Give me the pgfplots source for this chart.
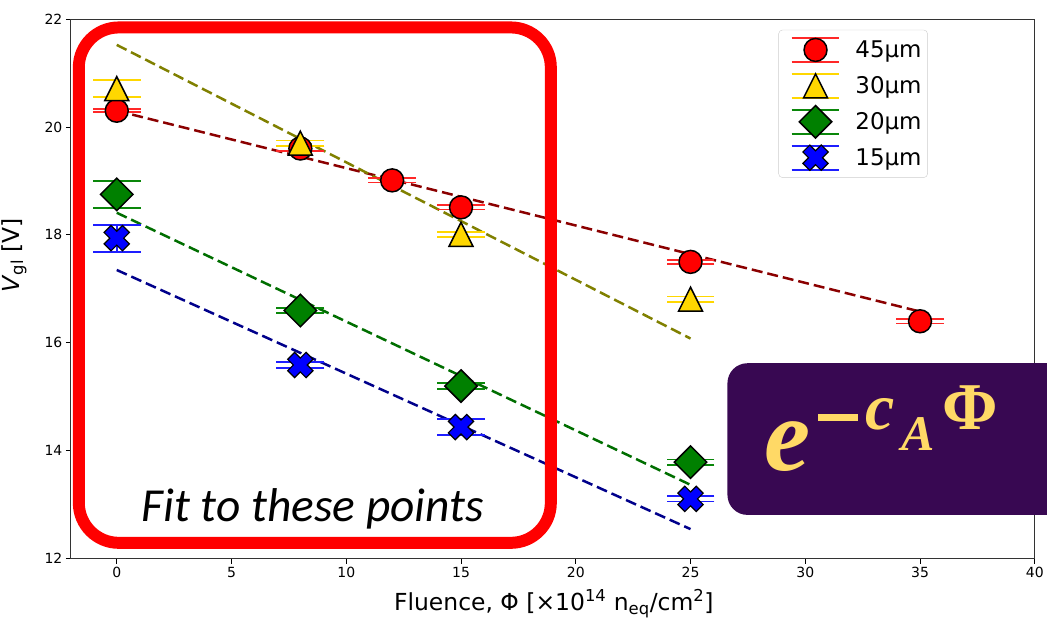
\documentclass[border=0pt]{standalone}
\usepackage{pgfplots}
\pgfplotsset{compat=1.18}
\usepackage{pgfplotstable}
\usepackage[no-math]{fontspec}
\setmainfont{DejaVu Sans}
\newfontfamily\carl{Carlito}
\newfontfamily\lser{Liberation Serif}

\definecolor{purp}{RGB}{56,8,82}
\definecolor{formcol}{RGB}{255,217,102}
\definecolor{errred}{RGB}{255,40,40}
\definecolor{errgold}{RGB}{255,215,0}
\definecolor{errgreen}{RGB}{10,135,10}
\definecolor{errblue}{RGB}{30,30,255}
\definecolor{fitred}{RGB}{139,0,0}
\definecolor{fitolive}{RGB}{128,128,0}
\definecolor{fitgreen}{RGB}{0,110,0}
\definecolor{fitblue}{RGB}{0,0,139}
\definecolor{mgold}{RGB}{255,215,0}
\definecolor{mgreen}{RGB}{0,128,0}

\pgfdeclareplotmark{mtri}{%
  \pgfpathmoveto{\pgfqpoint{0pt}{\pgfplotmarksize}}%
  \pgfpathlineto{\pgfqpoint{-\pgfplotmarksize}{-\pgfplotmarksize}}%
  \pgfpathlineto{\pgfqpoint{\pgfplotmarksize}{-\pgfplotmarksize}}%
  \pgfpathclose\pgfusepathqfillstroke}
\pgfdeclareplotmark{fatx}{%
  \pgftransformrotate{45}%
  \pgfpathmoveto{\pgfqpoint{0.38\pgfplotmarksize}{\pgfplotmarksize}}%
  \pgfpathlineto{\pgfqpoint{0.38\pgfplotmarksize}{0.38\pgfplotmarksize}}%
  \pgfpathlineto{\pgfqpoint{\pgfplotmarksize}{0.38\pgfplotmarksize}}%
  \pgfpathlineto{\pgfqpoint{\pgfplotmarksize}{-0.38\pgfplotmarksize}}%
  \pgfpathlineto{\pgfqpoint{0.38\pgfplotmarksize}{-0.38\pgfplotmarksize}}%
  \pgfpathlineto{\pgfqpoint{0.38\pgfplotmarksize}{-\pgfplotmarksize}}%
  \pgfpathlineto{\pgfqpoint{-0.38\pgfplotmarksize}{-\pgfplotmarksize}}%
  \pgfpathlineto{\pgfqpoint{-0.38\pgfplotmarksize}{-0.38\pgfplotmarksize}}%
  \pgfpathlineto{\pgfqpoint{-\pgfplotmarksize}{-0.38\pgfplotmarksize}}%
  \pgfpathlineto{\pgfqpoint{-\pgfplotmarksize}{0.38\pgfplotmarksize}}%
  \pgfpathlineto{\pgfqpoint{-0.38\pgfplotmarksize}{0.38\pgfplotmarksize}}%
  \pgfpathlineto{\pgfqpoint{-0.38\pgfplotmarksize}{\pgfplotmarksize}}%
  \pgfpathclose\pgfusepathqfillstroke}

\pgfplotstableread{
x y e
0 20.30 0.03
8 19.60 0.04
12 19.01 0.04
15 18.51 0.04
25 17.50 0.04
35 16.40 0.04
}\dA
\pgfplotstableread{
x y e
0 20.71 0.16
8 19.70 0.05
15 18.01 0.05
25 16.81 0.05
}\dB
\pgfplotstableread{
x y e
0 18.75 0.25
8 16.60 0.05
15 15.20 0.05
25 13.79 0.05
}\dC
\pgfplotstableread{
x y e
0 17.94 0.25
8 15.59 0.05
15 14.44 0.15
25 13.11 0.05
}\dD

% error bar (vertical line + two caps) for one series
\newcommand\errs[2]{%
  \addplot[draw=none, mark=none, forget plot,
    error bars/.cd, y dir=both, y explicit, error mark=none,
    error bar style={draw=#2, line width=1.8pt}]
    table[x=x, y=y, y error=e]{#1};
  \addplot[only marks, mark=-, mark size=24pt, forget plot,
    mark options={draw=#2, line width=1.8pt}]
    table[x=x, y expr=\thisrow{y}+\thisrow{e}]{#1};
  \addplot[only marks, mark=-, mark size=24pt, forget plot,
    mark options={draw=#2, line width=1.8pt}]
    table[x=x, y expr=\thisrow{y}-\thisrow{e}]{#1};
}
\newcommand\legimg[1]{%
  \draw[draw=#1, line width=1.8pt] (0pt,-12pt) -- (48pt,-12pt);
  \draw[draw=#1, line width=1.8pt] (0pt,12pt) -- (48pt,12pt);
  \draw plot coordinates {(24pt,0pt)};
  \path[draw=none,fill=none] (-9pt,-18pt) rectangle (62pt,18pt);}

\begin{document}
\begin{tikzpicture}
\begin{axis}[
  at={(0pt,0pt)}, anchor=south west,
  width=966pt, height=541pt, scale only axis,
  xmin=-2, xmax=40, ymin=12, ymax=22,
  xtick={0,5,...,40}, ytick={12,14,...,22},
  tick align=outside, tick pos=left, major tick length=5pt,
  tick style={black, line width=0.8pt},
  axis line style={black!80, line width=0.8pt},
  /pgf/number format/assume math mode=true,
  ticklabel style={font=\fontsize{14}{14}\selectfont},
  xlabel={Fluence, Φ [×10\textsuperscript{14} n\textsubscript{eq}/cm\textsuperscript{2}]},
  ylabel={\textit{V}\textsubscript{gl} [V]},
  label style={font=\fontsize{23.5}{23.5}\selectfont},
  xlabel style={at={(rel axis cs:0.501,0)}, anchor=base, yshift=-52pt, inner sep=0pt},
  ylabel style={at={(rel axis cs:-0.059,0.562)}, anchor=center, inner sep=0pt},
  legend style={at={(rel axis cs:0.889,0.980)}, anchor=north east,
    draw=black!20, rounded corners=4pt, fill=white,
    font=\fontsize{23}{23}\selectfont, row sep=0pt,
    inner xsep=4pt, inner ysep=2pt},
  legend cell align=left,
]
% fit lines
\addplot[fitred, line width=2.5pt, dash pattern=on 11pt off 5pt, forget plot] coordinates {(0,20.30) (35,16.58)};
\addplot[fitolive, line width=2.5pt, dash pattern=on 11pt off 5pt, forget plot] coordinates {(0,21.52) (25,16.08)};
\addplot[fitgreen, line width=2.5pt, dash pattern=on 11pt off 5pt, forget plot] coordinates {(0,18.41) (25,13.37)};
\addplot[fitblue, line width=2.5pt, dash pattern=on 11pt off 5pt, forget plot] coordinates {(0,17.35) (25,12.55)};

% error bars
\errs{\dA}{errred}
\errs{\dB}{errgold}
\errs{\dC}{errgreen}
\errs{\dD}{errblue}

% data points
\addplot[only marks, mark=*, mark size=11.5pt, mark options={fill=red, draw=black, line width=1.5pt},
  legend image code/.code={\legimg{errred}}]
  table[x=x, y=y]{\dA};
\addlegendentry{45µm}
\addplot[only marks, mark=mtri, mark size=12pt, mark options={fill=mgold, draw=black, line width=1.5pt},
  legend image code/.code={\legimg{errgold}}]
  table[x=x, y=y]{\dB};
\addlegendentry{30µm}
\addplot[only marks, mark=square*, mark size=11.5pt, mark options={rotate=45, fill=mgreen, draw=black, line width=1.5pt},
  legend image code/.code={\legimg{errgreen}}]
  table[x=x, y=y]{\dC};
\addlegendentry{20µm}
\addplot[only marks, mark=fatx, mark size=13pt, mark options={fill=blue, draw=black, line width=1.2pt},
  legend image code/.code={\legimg{errblue}}]
  table[x=x, y=y]{\dD};
\addlegendentry{15µm}
\end{axis}
% annotations
\draw[red, line width=12pt, rounded corners=40pt] (8pt,16pt) rectangle (481pt,532.5pt);
\node[anchor=base, inner sep=0pt] at (242.5pt,37pt) {\carl\itshape\fontsize{47.5}{47.5}\selectfont Fit to these points};
\fill[purp, rounded corners=20pt, overlay] (658pt,44pt) rectangle (1020pt,196pt);
\node[anchor=base west, inner sep=0pt, text=formcol] at (695pt,88pt) {\lser\bfseries\itshape\fontsize{104}{104}\selectfont e};
\fill[formcol] (749pt,138.5pt) rectangle (789pt,145.5pt);
\node[anchor=base west, inner sep=0pt, text=formcol] at (796pt,130pt) {\lser\bfseries\itshape\fontsize{66}{66}\selectfont c};
\node[anchor=base west, inner sep=0pt, text=formcol] at (832pt,109pt) {\lser\bfseries\itshape\fontsize{50}{50}\selectfont A};
\node[anchor=base west, inner sep=0pt, text=formcol] at (873pt,130pt) {\lser\bfseries\fontsize{67}{67}\selectfont Φ};
\path (-71pt,-58pt) rectangle (976pt,560pt);
\end{tikzpicture}
\end{document}
